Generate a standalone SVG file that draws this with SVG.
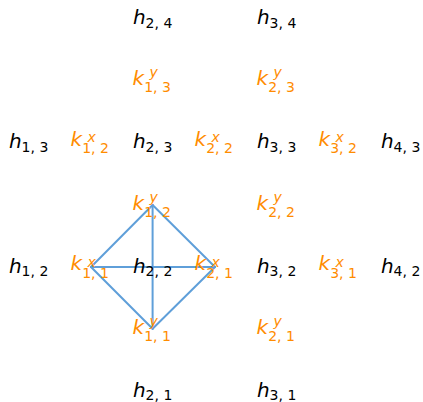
<svg xmlns="http://www.w3.org/2000/svg" width="423" height="402" viewBox="0 0 423 402">
<style>
text{font-family:"DejaVu Sans","Liberation Sans",sans-serif;font-size:20px}
.h{fill:#000}
.k{fill:#ff8c00}
.it{font-style:italic}
.s{font-size:14px;font-style:normal}
.si{font-size:14px;font-style:italic}
.e{stroke:#5f9fd9;stroke-width:2;fill:none;stroke-linecap:round}
</style>
<rect width="423" height="402" fill="#fff"/>
<g id="connectors">
<line class="e" x1="91" y1="267" x2="215" y2="267"/>
<line class="e" x1="152.6" y1="205" x2="152.6" y2="328.7"/>
<line class="e" x1="91" y1="267" x2="152.6" y2="205"/>
<line class="e" x1="152.6" y1="205" x2="215" y2="267"/>
<line class="e" x1="215" y1="267" x2="152.6" y2="328.7"/>
<line class="e" x1="152.6" y1="328.7" x2="91" y2="267"/>
</g>
<!-- h nodes -->
<g id="h24"><text class="h" x="152.6" y="24.2" text-anchor="middle"><tspan class="it">h</tspan><tspan class="s" dy="3.4">2, 4</tspan></text></g>
<g id="h34"><text class="h" x="276.6" y="24.2" text-anchor="middle"><tspan class="it">h</tspan><tspan class="s" dy="3.4">3, 4</tspan></text></g>
<g id="h13"><text class="h" x="28.6" y="148.4" text-anchor="middle"><tspan class="it">h</tspan><tspan class="s" dy="3.4">1, 3</tspan></text></g>
<g id="h23"><text class="h" x="152.6" y="148.4" text-anchor="middle"><tspan class="it">h</tspan><tspan class="s" dy="3.4">2, 3</tspan></text></g>
<g id="h33"><text class="h" x="276.6" y="148.4" text-anchor="middle"><tspan class="it">h</tspan><tspan class="s" dy="3.4">3, 3</tspan></text></g>
<g id="h43"><text class="h" x="400.6" y="148.4" text-anchor="middle"><tspan class="it">h</tspan><tspan class="s" dy="3.4">4, 3</tspan></text></g>
<g id="h12"><text class="h" x="28.6" y="272.6" text-anchor="middle"><tspan class="it">h</tspan><tspan class="s" dy="3.4">1, 2</tspan></text></g>
<g id="h22"><text class="h" x="152.6" y="272.6" text-anchor="middle"><tspan class="it">h</tspan><tspan class="s" dy="3.4">2, 2</tspan></text></g>
<g id="h32"><text class="h" x="276.6" y="272.6" text-anchor="middle"><tspan class="it">h</tspan><tspan class="s" dy="3.4">3, 2</tspan></text></g>
<g id="h42"><text class="h" x="400.6" y="272.6" text-anchor="middle"><tspan class="it">h</tspan><tspan class="s" dy="3.4">4, 2</tspan></text></g>
<g id="h21"><text class="h" x="152.6" y="396.8" text-anchor="middle"><tspan class="it">h</tspan><tspan class="s" dy="3.4">2, 1</tspan></text></g>
<g id="h31"><text class="h" x="276.6" y="396.8" text-anchor="middle"><tspan class="it">h</tspan><tspan class="s" dy="3.4">3, 1</tspan></text></g>
<!-- k^y nodes -->
<g id="ky13" class="k"><text class="k it" x="132.6" y="85.3">k</text><text class="k si" x="149.6" y="77.3">y</text><text class="k s" x="144.2" y="92.3">1, 3</text></g>
<g id="ky23" class="k"><text class="k it" x="256.6" y="85.3">k</text><text class="k si" x="273.6" y="77.3">y</text><text class="k s" x="268.2" y="92.3">2, 3</text></g>
<g id="ky12" class="k"><text class="k it" x="132.6" y="209.5">k</text><text class="k si" x="149.6" y="201.5">y</text><text class="k s" x="144.2" y="216.5">1, 2</text></g>
<g id="ky22" class="k"><text class="k it" x="256.6" y="209.5">k</text><text class="k si" x="273.6" y="201.5">y</text><text class="k s" x="268.2" y="216.5">2, 2</text></g>
<g id="ky11" class="k"><text class="k it" x="132.6" y="333.7">k</text><text class="k si" x="149.6" y="325.7">y</text><text class="k s" x="144.2" y="340.7">1, 1</text></g>
<g id="ky21" class="k"><text class="k it" x="256.6" y="333.7">k</text><text class="k si" x="273.6" y="325.7">y</text><text class="k s" x="268.2" y="340.7">2, 1</text></g>
<!-- k^x nodes -->
<g id="kx12"><text class="k it" x="70.6" y="145.9">k</text><text class="k si" x="87.6" y="142.4">x</text><text class="k s" x="82.2" y="153.4">1, 2</text></g>
<g id="kx22"><text class="k it" x="194.6" y="145.9">k</text><text class="k si" x="211.6" y="142.4">x</text><text class="k s" x="206.2" y="153.4">2, 2</text></g>
<g id="kx32"><text class="k it" x="318.6" y="145.9">k</text><text class="k si" x="335.6" y="142.4">x</text><text class="k s" x="330.2" y="153.4">3, 2</text></g>
<g id="kx11"><text class="k it" x="70.6" y="270.1">k</text><text class="k si" x="87.6" y="266.6">x</text><text class="k s" x="82.2" y="277.6">1, 1</text></g>
<g id="kx21"><text class="k it" x="194.6" y="270.1">k</text><text class="k si" x="211.6" y="266.6">x</text><text class="k s" x="206.2" y="277.6">2, 1</text></g>
<g id="kx31"><text class="k it" x="318.6" y="270.1">k</text><text class="k si" x="335.6" y="266.6">x</text><text class="k s" x="330.2" y="277.6">3, 1</text></g>
</svg>
